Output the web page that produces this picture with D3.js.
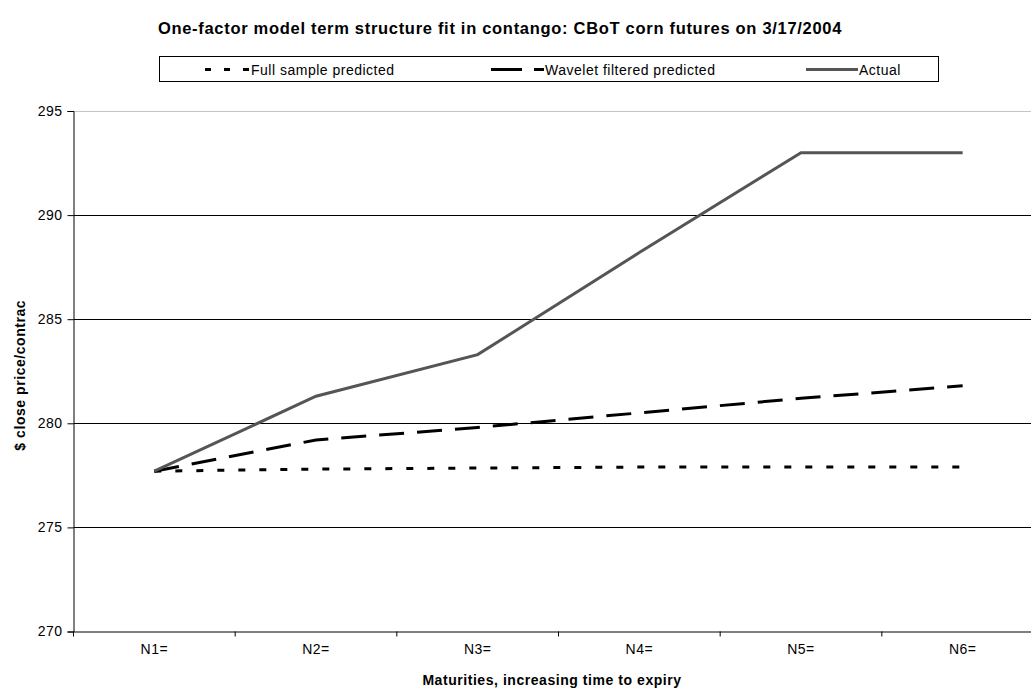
<!DOCTYPE html>
<html>
<head>
<meta charset="utf-8">
<script src="https://cdn.jsdelivr.net/npm/d3@7"></script>
<style>
  html, body { margin: 0; padding: 0; background: #fff; }
  svg { display: block; font-family: "Liberation Sans", Arial, sans-serif; }
</style>
</head>
<body>
<svg id="chart" width="1031" height="689"></svg>
<script>
// Maturities along the curve
const maturities = ["N1=", "N2=", "N3=", "N4=", "N5=", "N6="];
// Settlement prices, $ per contract
const fullSample = [277.7, 277.8, 277.85, 277.9, 277.9, 277.9];
const waveletFiltered = [277.7, 279.2, 279.8, 280.5, 281.2, 281.8];
const actual = [277.7, 281.3, 283.3, 288.2, 293.0, 293.0];
const yTicks = [270, 275, 280, 285, 290, 295];

const svg = d3.select("#chart");
const m = { left: 73.5, top: 111, right: 1043.5, bottom: 631.5 };

const x = d3.scaleBand().domain(maturities).range([m.left, m.right]);
const y = d3.scaleLinear().domain([270, 295]).range([m.bottom, m.top]);
const cx = d => x(d) + x.bandwidth() / 2;

// Title
svg.append("text")
  .attr("x", 500).attr("y", 34)
  .attr("text-anchor", "middle")
  .attr("font-size", 16.5).attr("font-weight", "bold")
  .attr("letter-spacing", 0.7)
  .text("One-factor model term structure fit in contango: CBoT corn futures on 3/17/2004");

// Horizontal gridlines (top one is the dotted plot border)
svg.append("g").selectAll("line")
  .data(yTicks.filter(t => t > 270))
  .join("line")
  .attr("x1", m.left).attr("x2", m.right)
  .attr("y1", d => Math.round(y(d)) + 0.5).attr("y2", d => Math.round(y(d)) + 0.5)
  .attr("stroke", d => d === 295 ? "#888" : "#000")
  .attr("stroke-dasharray", d => d === 295 ? "1,1" : null)
  .attr("stroke-width", 1);

// Y axis
const yAxis = d3.axisLeft(y).tickValues(yTicks).tickSize(6).tickPadding(5);
const gy = svg.append("g").attr("transform", `translate(${m.left},0)`).call(yAxis);
gy.select(".domain").attr("stroke", "#000");
gy.selectAll(".tick line").attr("stroke", "#000");
gy.selectAll(".tick text").attr("font-size", 14).attr("fill", "#000")
  .attr("letter-spacing", 0.5)
  .attr("font-family", "Liberation Sans, Arial, sans-serif");

// X axis
const xAxis = d3.axisBottom(x).tickSize(0).tickPadding(13);
const gx = svg.append("g").attr("transform", `translate(0,${m.bottom})`).call(xAxis);
gx.select(".domain").attr("stroke", "#000");
gx.selectAll(".tick text").attr("font-size", 14).attr("fill", "#000")
  .attr("letter-spacing", 0.5)
  .attr("font-family", "Liberation Sans, Arial, sans-serif");
// Category boundary ticks
gx.append("g").selectAll("line")
  .data(maturities)
  .join("line")
  .attr("x1", d => x(d)).attr("x2", d => x(d))
  .attr("y1", 0).attr("y2", 5)
  .attr("stroke", "#000");

// Axis titles
svg.append("text")
  .attr("transform", `translate(25,${(m.top + m.bottom) / 2 + 4}) rotate(-90)`)
  .attr("text-anchor", "middle")
  .attr("font-size", 14).attr("font-weight", "bold")
  .attr("letter-spacing", 0.55)
  .text("$ close price/contrac");

svg.append("text")
  .attr("x", 552).attr("y", 685)
  .attr("text-anchor", "middle")
  .attr("font-size", 14).attr("font-weight", "bold")
  .attr("letter-spacing", 0.55)
  .text("Maturities, increasing time to expiry");

// Series
const series = [
  { name: "Full sample predicted", values: fullSample, color: "#000", width: 3, dash: "7,14" },
  { name: "Wavelet filtered predicted", values: waveletFiltered, color: "#000", width: 3, dash: "25,13" },
  { name: "Actual", values: actual, color: "#555", width: 3, dash: null }
];

const line = d3.line()
  .x((v, i) => cx(maturities[i]))
  .y(v => y(v));

svg.append("g").selectAll("path")
  .data(series)
  .join("path")
  .attr("d", s => line(s.values))
  .attr("fill", "none")
  .attr("stroke", s => s.color)
  .attr("stroke-width", s => s.width)
  .attr("stroke-dasharray", s => s.dash);

// Legend
const lg = svg.append("g");
lg.append("rect")
  .attr("x", 159.5).attr("y", 56.5).attr("width", 779).attr("height", 25)
  .attr("fill", "#fff").attr("stroke", "#000");
const legendPos = [
  { lx: 205, tx: 251, dash: "6,13" },
  { lx: 491, tx: 545, dash: "31,12" },
  { lx: 806, tx: 859, dash: null }
];
series.forEach((s, i) => {
  const p = legendPos[i];
  lg.append("line")
    .attr("x1", p.lx).attr("x2", p.tx - 1)
    .attr("y1", 69.5).attr("y2", 69.5)
    .attr("stroke", s.color).attr("stroke-width", 3)
    .attr("stroke-dasharray", p.dash);
  lg.append("text")
    .attr("x", p.tx).attr("y", 74.5)
    .attr("font-size", 14)
    .attr("letter-spacing", 0.5)
    .text(s.name);
});
</script>
</body>
</html>
